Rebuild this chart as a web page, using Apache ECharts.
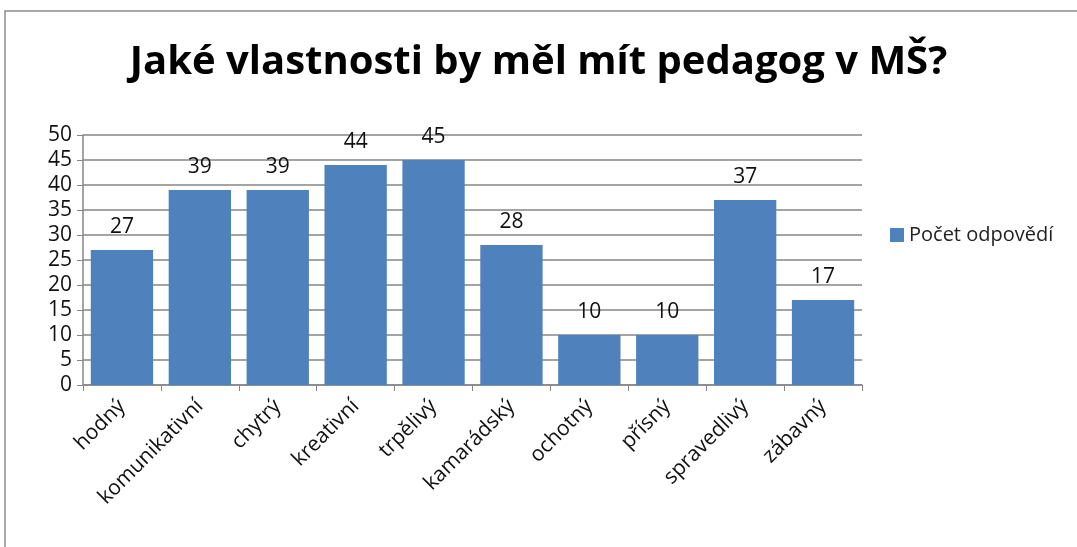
<!DOCTYPE html>
<html>
<head>
<meta charset="utf-8" />
<title></title>
<script type="text/javascript" src="https://cdn.jsdelivr.net/npm/echarts@6/dist/echarts.min.js"></script>
<style>
  html, body { margin: 0; padding: 0; background: #fff; }
</style>
</head>
<body>
<div id="main" style="width: 1077px;height: 547px;"></div>
<script type="text/javascript">
var categories = ['hodný', 'komunikativní', 'chytrý', 'kreativní', 'trpělivý', 'kamarádský', 'ochotný', 'přísný', 'spravedlivý', 'zábavný'];
var answers = [27, 39, 39, 44, 45, 28, 10, 10, 37, 17];
var seriesName = 'Počet odpovědí';
var chartTitle = 'Jaké vlastnosti by měl mít pedagog v MŠ?';

var myChart = echarts.init(document.getElementById('main'));
var font = 'Open Sans';
var option = {
  animation: false,
  title: {
    text: chartTitle,
    left: 'center',
    top: 38,
    textStyle: { fontFamily: font, fontSize: 40, fontWeight: 'bold', color: '#000' }
  },
  // frame around the chart
  graphic: [{
    type: 'rect',
    shape: { x: 5, y: 11, width: 1080, height: 545 },
    style: { fill: null, stroke: '#8c8c8c', lineWidth: 1.5 },
    silent: true
  }],
  legend: {
    data: [{ name: seriesName, icon: 'rect' }],
    left: 885,
    top: 220,
    itemWidth: 14,
    itemHeight: 14,
    itemGap: 8,
    textStyle: { fontFamily: font, fontSize: 20, color: '#222' }
  },
  grid: { left: 83, right: 215, top: 135, bottom: 162 },
  xAxis: {
    type: 'category',
    data: categories,
    axisLine: { lineStyle: { color: '#868686', width: 1.5 } },
    axisTick: { show: true, length: 6, lineStyle: { color: '#868686' } },
    axisLabel: { rotate: 45, fontFamily: font, fontSize: 21, color: '#111', margin: 18, interval: 0 }
  },
  yAxis: {
    type: 'value',
    min: 0,
    max: 50,
    interval: 5,
    axisLine: { show: true, lineStyle: { color: '#868686', width: 1.5 } },
    axisTick: { show: true, length: 6, lineStyle: { color: '#868686' } },
    splitLine: { lineStyle: { color: '#868686', width: 1.5 } },
    axisLabel: { fontFamily: font, fontSize: 21, color: '#111', margin: 11 }
  },
  series: [{
    name: seriesName,
    type: 'bar',
    data: answers,
    barCategoryGap: '20%',
    itemStyle: { color: '#4F81BD' },
    label: { show: true, position: 'top', distance: 12, fontFamily: font, fontSize: 21, color: '#111' }
  }]
};
myChart.setOption(option);
</script>
</body>
</html>
